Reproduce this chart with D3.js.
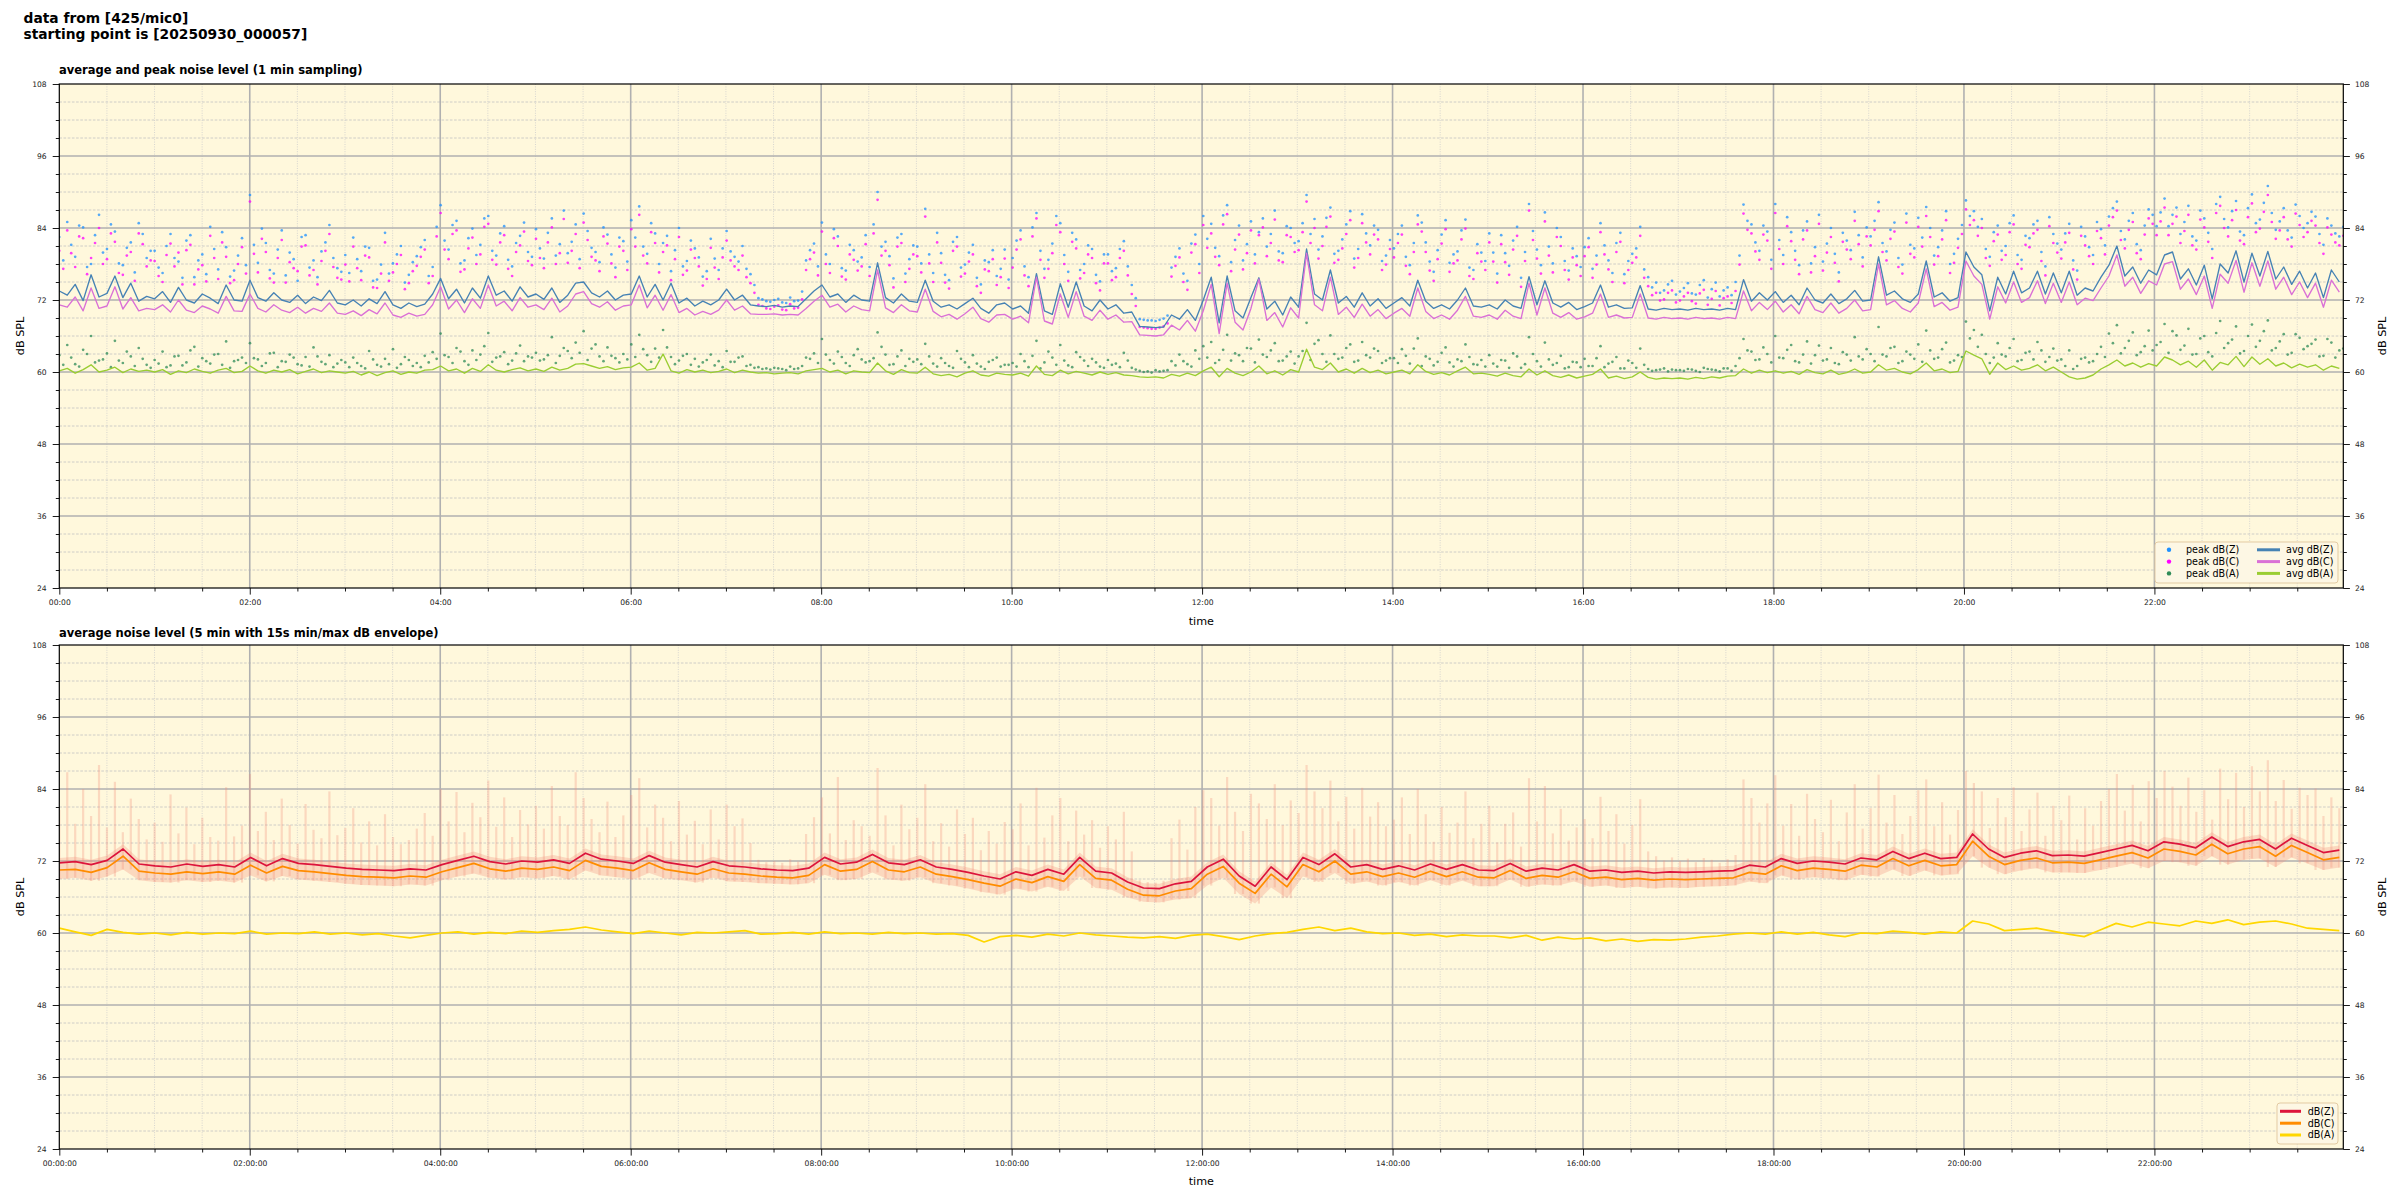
<!DOCTYPE html>
<html><head><meta charset="utf-8">
<script src="https://cdn.jsdelivr.net/npm/d3@7"></script>
<style>
body{margin:0;background:#fff;}
svg{display:block;font-family:"DejaVu Sans",sans-serif;}
</style></head><body>
<svg id="c" width="2400" height="1200"></svg>
<script>
// ---------- DATA ----------
const mainTitle = ["data from [425/mic0]", "starting point is [20250930_000057]"];
const topTitle = "average and peak noise level (1 min sampling)";
const botTitle = "average noise level (5 min with 15s min/max dB envelope)";
const yTicks = [24, 36, 48, 60, 72, 84, 96, 108];
const xTickMinutes = [0, 120, 240, 360, 480, 600, 720, 840, 960, 1080, 1200, 1320];
const topLegend = ["peak dB(Z)", "peak dB(C)", "peak dB(A)", "avg dB(Z)", "avg dB(C)", "avg dB(A)"];
const botLegend = ["dB(Z)", "dB(C)", "dB(A)"];

// top panel, 5-min samples over 24 h (one row per hour)
const avgZ = [
73.5,72.8,74.6,71.9,76.2,72.5,73.1,76.0,72.4,74.8,71.8,72.6,
72.2,73.4,71.6,74.1,72.0,71.5,73.0,72.3,71.4,74.5,72.0,71.8,
75.3,72.4,71.8,73.2,72.0,71.6,72.8,71.4,72.5,71.9,73.6,71.5,
71.2,72.0,71.0,72.2,71.4,73.4,71.2,70.6,71.5,70.9,71.3,73.0,
75.6,72.2,73.8,71.5,74.0,72.3,76.0,72.8,73.5,71.8,74.2,72.5,
73.0,72.1,74.0,71.6,72.8,74.8,75.0,73.2,72.5,73.5,72.0,72.8,
73.0,76.0,72.5,74.6,72.0,74.8,71.5,72.3,71.0,71.8,71.2,72.0,
73.8,72.0,72.8,71.2,71.0,70.9,71.1,70.8,71.0,70.9,72.2,73.5,
74.5,72.5,73.0,71.6,72.8,72.0,71.8,78.2,72.4,71.5,73.0,71.8,
71.6,75.3,71.8,70.8,71.2,70.5,71.4,72.3,70.6,69.8,71.2,71.5,
70.5,71.0,69.8,76.4,70.2,69.6,74.7,70.8,75.0,71.0,70.2,72.0,
70.5,71.2,69.8,70.0,67.6,67.5,67.4,67.5,69.5,68.8,70.4,68.6,
72.0,75.8,68.2,76.0,70.2,69.0,72.4,75.7,70.5,71.8,69.5,72.5,
70.8,80.5,73.0,72.0,77.0,71.5,72.6,70.8,73.2,71.0,72.2,70.6,
71.5,72.4,71.0,75.3,71.8,70.6,71.2,70.5,72.0,74.0,71.0,70.8,
71.2,70.5,72.0,71.0,70.6,75.9,71.2,75.2,71.5,70.8,71.6,70.4,
70.9,71.5,74.5,70.8,71.2,70.6,70.7,74.4,70.5,70.3,70.6,70.4,
70.5,70.3,70.6,70.4,70.5,70.3,70.6,70.4,75.4,71.8,73.2,72.0,
73.4,71.6,72.8,71.2,74.0,72.0,71.5,73.0,71.4,72.2,73.6,71.8,
72.0,79.2,72.8,73.5,72.2,71.6,73.0,78.5,72.5,73.2,71.8,72.4,
80.0,77.5,76.2,70.2,75.8,73.0,76.8,73.2,74.0,76.8,73.0,76.5,
73.2,76.8,72.8,74.0,73.5,75.8,77.8,81.0,76.0,77.5,74.8,77.0,
76.2,79.5,80.0,75.5,77.2,74.5,77.8,72.2,78.0,76.5,80.2,75.0,
79.8,76.0,80.1,75.5,77.5,74.6,76.8,74.0,76.5,72.4,77.0,75.0];

const avgC = [
71.2,70.8,72.5,70.2,74.0,70.6,71.0,74.2,70.5,72.4,70.2,70.6,
70.4,71.2,70.0,72.0,70.3,69.9,71.0,70.5,69.8,72.6,70.2,70.1,
73.0,70.6,70.0,71.2,70.3,69.9,70.8,69.8,70.6,70.1,71.5,69.8,
69.6,70.2,69.4,70.4,69.7,71.5,69.5,69.1,69.8,69.3,69.6,71.2,
74.2,70.5,72.0,69.9,72.2,70.6,74.5,71.0,71.8,70.2,72.4,70.8,
71.2,70.4,72.3,70.0,71.0,73.0,73.4,71.4,70.8,71.7,70.3,71.0,
71.2,74.5,70.7,72.8,70.3,72.9,69.9,70.6,69.5,70.1,69.6,70.3,
72.0,70.3,71.0,69.7,69.6,69.6,69.7,69.5,69.6,69.5,70.6,71.8,
72.8,70.8,71.3,70.0,71.0,70.4,70.2,77.0,70.7,69.9,71.2,70.2,
70.0,73.8,70.1,69.2,69.6,68.8,69.7,70.8,68.9,68.3,69.5,69.6,
68.8,69.3,68.2,75.8,68.5,68.0,73.0,69.1,73.4,69.3,68.6,70.3,
68.8,69.5,68.3,68.4,66.2,66.1,66.0,66.2,67.8,67.0,68.6,66.8,
70.2,74.6,66.4,74.8,68.3,67.0,70.6,75.5,68.6,69.9,67.5,70.7,
69.0,79.8,71.2,70.2,75.8,69.6,70.8,69.1,71.3,69.3,70.4,68.9,
69.8,70.6,69.3,74.0,70.1,68.9,69.5,68.8,70.3,72.6,69.3,69.1,
69.5,68.8,70.3,69.3,68.9,74.8,69.5,74.0,69.8,69.1,69.9,68.8,
69.2,69.8,73.0,69.1,69.5,69.0,69.1,73.0,69.0,68.8,69.1,68.9,
69.0,68.8,69.1,68.9,69.0,68.8,69.1,68.9,73.5,70.2,71.6,70.4,
71.8,70.0,71.2,69.7,72.6,70.4,69.9,71.5,69.8,70.6,72.0,70.2,
70.4,78.0,71.2,71.9,70.6,70.0,71.5,77.2,70.9,71.6,70.3,70.8,
78.5,76.0,74.6,68.8,74.2,71.5,75.0,71.6,72.4,75.2,71.4,74.8,
71.6,75.0,71.2,72.3,71.9,74.0,76.0,79.5,74.3,75.8,73.1,75.2,
74.5,78.0,78.4,73.8,75.5,72.9,76.0,70.6,76.3,74.8,78.6,73.3,
78.2,74.3,78.5,73.8,75.8,72.9,75.0,72.4,74.8,70.8,75.3,73.3];

const avgA = [
60.2,60.6,59.8,60.4,61.2,60.0,60.3,60.8,59.9,60.5,60.1,60.3,
60.0,60.4,59.6,60.2,59.9,60.5,60.1,59.8,60.3,60.6,59.9,60.1,
61.0,60.2,59.8,60.3,60.0,60.4,59.7,60.1,60.5,59.9,60.2,60.0,
59.8,60.1,59.5,60.0,59.4,59.9,60.2,59.6,60.0,59.8,60.3,60.4,
61.0,60.2,60.5,59.8,60.6,60.1,61.2,60.3,60.0,60.4,60.7,60.2,
60.5,60.1,60.8,60.3,60.6,61.3,61.4,61.0,60.6,60.9,60.4,60.7,
60.8,61.5,60.3,60.6,63.0,60.2,59.8,60.4,60.0,60.3,59.9,60.1,
60.5,59.9,60.3,60.0,59.8,59.9,59.7,59.8,59.9,59.7,60.2,60.4,
60.6,60.0,60.3,59.7,60.2,60.0,59.9,61.5,60.2,59.6,60.4,59.9,
59.8,60.8,59.7,59.4,59.6,59.2,59.8,60.2,59.5,59.3,59.8,59.6,
59.5,59.8,59.3,61.0,59.6,59.4,60.3,59.7,60.1,59.8,59.5,60.0,
59.6,59.9,59.5,59.4,59.2,59.1,59.2,59.0,59.6,59.3,59.8,59.4,
60.2,60.8,59.2,60.6,59.8,59.4,60.0,61.0,59.7,60.2,59.5,60.4,
60.0,63.8,60.8,60.4,61.5,60.0,60.5,59.8,60.6,59.9,60.3,59.7,
60.0,60.3,59.7,61.2,60.1,59.6,59.9,59.5,60.2,60.8,59.7,59.8,
59.6,59.3,59.8,59.4,59.2,60.5,59.5,60.2,59.4,59.1,59.5,59.0,
59.3,59.6,60.5,59.0,59.3,58.9,59.2,60.0,59.1,58.8,59.0,58.9,
59.0,58.8,59.1,58.9,59.2,59.0,59.3,59.4,60.5,59.8,60.3,59.9,
60.2,59.8,60.1,59.6,60.4,59.9,59.7,60.3,59.6,59.9,60.5,59.8,
60.0,61.2,60.3,60.6,60.0,59.7,60.4,61.5,60.2,60.5,59.9,60.1,
63.5,62.8,62.2,59.6,61.5,60.4,61.0,60.3,60.6,61.2,60.2,60.8,
60.0,59.2,58.8,59.0,59.5,60.5,61.2,62.0,61.0,61.5,60.8,61.4,
61.0,62.5,62.0,61.2,61.8,60.8,62.0,60.3,61.6,61.2,62.6,60.9,
62.5,61.3,62.2,61.0,61.5,60.7,61.3,60.8,61.2,60.3,61.0,60.6];

// peaks on the 5-min marks
const peakZ = [
82.5,85.0,79.2,84.1,78.0,86.2,80.5,83.4,77.8,81.6,84.8,79.0,
80.2,76.5,83.0,78.4,81.9,75.8,79.6,84.2,77.1,80.8,76.9,82.3,
89.5,78.2,81.5,76.4,83.6,79.9,75.2,82.8,78.6,80.1,84.5,77.3,
79.5,82.4,76.8,80.7,75.4,83.2,78.1,81.0,76.2,79.3,82.0,77.5,
87.8,80.4,85.2,78.6,83.9,81.2,86.0,79.4,84.3,77.6,82.7,80.0,
83.8,78.9,85.6,81.3,79.8,84.6,86.4,80.7,78.3,82.9,77.4,81.8,
85.3,87.6,79.7,83.1,81.5,76.8,84.0,78.5,80.6,75.9,82.2,77.0,
83.5,79.2,81.0,76.3,72.3,71.8,72.0,71.6,72.4,71.9,78.6,81.4,
84.9,78.0,82.6,76.9,80.3,79.1,77.5,90.0,81.7,75.6,83.0,78.8,
80.9,87.2,76.5,79.8,75.3,82.5,77.9,81.2,74.6,78.3,76.0,80.4,
79.0,83.6,75.8,86.5,77.2,81.4,84.8,76.7,82.1,78.0,80.5,75.1,
79.6,77.3,81.8,74.5,68.8,68.6,68.5,68.9,77.4,80.6,75.2,82.9,
86.0,84.7,79.3,87.8,82.0,78.6,85.1,83.3,80.9,86.9,79.8,84.0,
81.8,89.5,85.5,82.6,87.4,80.2,84.6,78.9,86.3,81.1,83.7,79.4,
80.6,84.4,77.8,86.1,81.6,76.7,82.9,78.2,80.1,85.4,77.0,79.9,
83.1,76.4,79.8,81.9,75.7,88.0,80.4,86.6,78.1,82.5,76.9,79.3,
80.8,77.2,84.8,78.6,81.5,76.3,79.7,84.2,75.8,74.9,73.6,75.2,
73.4,74.8,72.9,75.3,73.8,72.6,74.1,75.0,87.9,84.6,80.2,83.4,
88.0,79.5,83.3,77.8,85.1,80.8,78.4,84.0,76.6,81.9,86.7,79.1,
82.6,88.3,80.1,84.9,77.9,81.2,85.7,87.5,79.4,83.6,78.0,82.2,
88.6,86.8,85.5,79.2,84.4,81.0,86.1,78.7,82.3,85.2,77.6,83.0,
80.4,84.7,76.9,82.6,79.5,83.8,85.9,88.4,82.1,86.5,80.3,87.1,
84.3,88.9,86.2,83.0,87.7,81.9,85.6,80.5,89.2,84.1,88.5,82.8,
89.6,85.4,91.0,83.7,87.3,82.4,86.0,84.8,85.9,81.2,84.4,82.6];

const peakC = [
80.2,83.6,77.5,82.3,79.0,84.0,78.8,81.7,76.2,80.0,83.1,77.6,
78.5,75.0,81.4,79.9,80.3,74.6,77.8,82.7,75.5,79.2,75.3,80.8,
88.4,76.6,80.0,74.9,82.0,78.3,76.8,81.1,77.0,78.5,83.0,75.7,
77.9,80.9,75.3,79.1,74.0,81.6,76.6,79.5,74.8,77.7,80.4,76.0,
86.5,78.8,83.6,77.1,82.4,79.6,84.7,77.9,82.8,76.0,81.1,78.5,
82.2,77.3,84.1,79.8,78.2,83.0,84.9,79.2,76.8,81.4,75.8,80.2,
83.8,86.2,78.1,81.5,80.0,75.3,82.5,76.9,79.0,74.4,80.7,75.5,
81.9,77.6,79.4,74.8,71.2,70.6,70.9,70.4,71.3,70.7,77.0,79.9,
83.4,76.5,81.0,75.4,78.7,77.6,76.0,88.7,80.2,74.1,81.5,77.2,
79.3,85.9,75.0,78.2,73.9,80.9,76.4,79.6,73.2,76.8,74.5,78.9,
77.4,82.1,74.3,85.6,75.7,79.8,83.3,75.2,80.6,76.5,79.0,73.6,
78.1,75.8,80.2,73.0,67.5,67.3,67.2,67.6,75.9,79.1,73.7,81.3,
84.5,83.1,77.8,86.3,80.4,77.1,83.6,82.8,79.3,85.4,78.3,82.5,
80.3,88.4,84.0,81.0,85.9,78.7,83.0,77.4,84.8,79.6,82.1,77.9,
79.1,82.9,76.3,84.6,80.0,75.2,81.4,76.7,78.6,83.9,75.5,78.4,
81.6,74.9,78.3,80.4,74.2,86.9,78.9,85.1,76.6,81.0,75.4,77.8,
79.3,75.7,83.3,77.1,80.0,74.8,78.2,82.7,74.3,73.2,72.1,73.6,
71.9,73.2,71.4,73.7,72.2,71.1,72.6,73.5,86.4,83.1,78.7,81.9,
86.5,78.0,81.8,76.3,83.6,79.3,76.9,82.5,75.1,80.4,85.2,77.6,
81.1,86.8,78.6,83.4,76.4,79.7,84.2,86.0,77.9,82.1,76.5,80.7,
87.1,85.3,84.0,77.7,82.9,79.5,84.6,77.2,80.8,83.7,76.1,81.5,
78.9,83.2,75.4,81.1,78.0,82.3,84.4,86.9,80.6,85.0,78.8,85.6,
82.8,87.4,84.7,81.5,86.2,80.4,84.1,79.0,87.7,82.6,87.0,81.3,
88.1,83.9,89.5,82.2,85.8,80.9,84.5,83.3,84.4,79.7,82.9,81.1];

const peakA = [
62.8,64.5,61.3,63.7,66.0,61.9,63.1,65.2,61.5,62.6,64.0,61.2,
62.0,63.4,61.1,62.7,61.6,64.2,62.3,61.4,63.0,65.1,61.8,62.4,
64.8,62.1,61.5,63.2,61.8,62.9,61.3,62.5,64.1,61.7,62.8,61.4,
61.6,62.4,61.0,63.5,61.2,62.2,63.8,61.3,62.0,61.5,62.7,63.3,
66.4,62.5,64.0,61.8,63.6,62.9,66.5,62.4,63.3,61.9,64.4,62.6,
63.2,62.1,65.8,62.7,63.5,64.9,66.8,63.9,62.6,64.1,62.3,63.0,
64.6,66.2,62.8,63.9,67.0,62.5,61.9,63.0,62.2,61.6,62.9,61.8,
63.5,61.7,62.6,61.2,60.8,60.6,60.7,60.5,60.9,60.6,62.4,63.1,
65.5,62.0,63.4,61.5,62.8,62.1,61.8,66.6,62.9,61.3,63.6,62.2,
62.1,64.7,61.4,62.3,61.0,63.5,61.6,62.8,60.9,61.7,62.4,61.2,
61.5,63.0,60.8,65.2,61.6,62.4,64.5,61.1,63.3,61.9,62.2,60.9,
62.0,61.4,63.2,60.7,60.2,60.1,60.3,60.2,61.8,62.9,61.3,63.6,
64.3,65.0,62.0,66.2,63.1,61.8,63.9,65.4,62.5,64.8,61.9,63.4,
62.6,68.2,64.7,63.0,66.1,62.2,64.0,61.7,65.0,62.4,63.5,61.9,
62.3,63.8,61.4,65.6,62.6,61.1,63.2,61.6,62.1,64.6,61.3,62.0,
62.8,60.9,61.9,63.1,60.7,65.8,61.8,64.9,61.2,62.7,60.8,61.6,
62.2,61.0,64.3,61.4,62.5,60.6,61.5,63.9,60.5,60.3,60.6,60.4,
60.3,60.5,60.2,60.7,60.4,60.1,60.6,61.0,65.5,63.4,62.1,63.0,
66.0,62.3,64.5,61.6,65.1,62.8,61.9,64.0,61.3,62.9,65.8,62.1,
63.0,67.5,62.6,64.2,61.8,62.9,64.6,66.9,62.2,63.8,61.6,62.8,
68.4,67.0,66.2,61.5,64.8,62.6,65.5,62.0,63.4,65.0,61.7,63.9,
62.1,63.6,61.0,62.4,61.8,64.2,66.4,67.8,64.0,66.6,63.3,66.9,
64.5,68.0,66.8,63.7,67.2,63.0,66.0,62.6,68.5,64.8,67.6,63.5,
67.9,65.2,68.6,64.0,66.3,63.2,65.7,64.3,65.4,62.7,64.9,63.6];

// peaks half-way between the 5-min marks
const peakZ2 = [
78.6,81.2,84.4,77.5,82.8,79.9,84.6,78.1,80.7,76.6,83.0,80.2,
77.4,81.0,79.0,75.7,82.8,78.6,76.3,80.5,83.3,75.9,79.4,77.8,
81.2,83.9,77.0,80.4,76.1,78.8,82.5,77.4,75.8,81.6,79.0,76.7,
76.5,78.8,80.9,75.2,77.9,76.4,79.6,74.9,78.3,80.8,76.0,84.2,
81.9,84.5,78.1,82.3,79.5,85.6,80.2,83.1,78.7,81.5,84.9,79.2,
80.6,83.2,79.4,86.9,81.7,78.8,83.5,80.0,84.1,79.6,82.4,78.4,
82.4,80.9,84.8,78.0,82.7,80.3,77.6,81.9,79.1,76.8,78.9,80.6,
80.1,78.4,77.2,74.5,72.1,71.7,72.2,71.5,71.8,73.4,80.3,77.6,
79.6,83.8,77.3,81.2,78.4,82.8,84.6,80.9,79.3,82.4,76.4,81.1,
78.1,79.6,83.2,76.2,81.7,77.4,79.9,75.7,78.6,80.3,77.2,75.4,
81.9,77.6,84.1,80.2,78.7,86.0,79.5,83.2,77.0,81.1,76.2,79.6,
76.8,80.5,77.6,72.3,68.7,68.6,68.7,69.4,79.2,76.4,81.4,78.0,
82.2,80.7,86.1,78.3,84.4,81.3,79.6,85.6,83.0,80.1,84.3,81.5,
84.8,83.0,80.4,85.7,79.7,82.1,86.8,80.5,83.1,84.4,78.5,82.0,
83.0,79.2,81.5,84.9,78.4,80.3,85.3,79.6,83.6,77.4,81.3,78.5,
79.9,82.8,77.7,84.2,80.0,83.5,77.8,80.9,84.0,78.5,80.6,77.5,
82.3,79.4,81.1,76.5,83.2,78.5,80.6,77.1,74.1,73.2,74.6,72.9,
74.0,73.1,74.5,72.4,74.9,73.6,72.8,79.4,85.2,81.6,84.4,78.7,
82.0,85.8,80.2,83.6,78.1,86.2,81.4,79.7,83.2,80.3,82.8,84.1,
85.2,81.5,83.7,79.0,86.4,80.6,82.4,84.0,80.8,86.8,79.7,84.5,
86.0,84.2,80.5,83.3,80.2,84.8,79.5,82.7,84.6,80.0,85.8,81.4,
83.1,78.6,84.2,80.8,85.0,81.1,87.3,83.5,85.2,81.3,84.4,86.2,
86.6,84.3,87.4,85.0,82.6,86.9,83.2,88.0,85.5,86.8,83.4,87.3,
84.8,88.2,86.5,85.1,83.6,87.9,84.0,86.7,83.0,85.6,83.1,84.2];

const peakC2 = [
77.2,79.8,82.6,76.3,81.5,78.0,83.1,76.5,79.4,75.2,81.3,78.6,
76.0,79.5,77.6,74.6,81.2,77.1,75.1,79.0,81.6,74.8,78.0,76.4,
79.7,82.2,75.6,79.0,74.9,77.3,80.9,76.1,74.6,80.2,77.5,75.4,
75.1,77.3,79.4,74.1,76.4,75.2,78.0,73.8,76.8,79.2,74.8,82.6,
80.4,83.0,76.7,80.6,78.0,84.2,78.7,81.6,77.2,80.0,83.4,77.8,
79.0,81.6,78.0,85.5,80.2,77.3,82.0,78.6,82.6,78.1,80.9,77.0,
80.9,79.4,83.3,76.6,81.1,78.8,76.2,80.4,77.6,75.5,77.4,79.1,
78.6,77.0,75.8,73.2,71.0,70.5,71.1,70.3,70.6,72.1,78.8,76.1,
78.0,82.3,75.9,79.6,76.9,81.3,83.1,79.4,77.8,80.9,75.0,79.6,
76.6,78.1,81.6,74.9,80.2,75.9,78.4,74.3,77.1,78.8,75.8,74.0,
80.4,76.1,82.6,78.7,77.2,84.5,78.0,81.7,75.6,79.6,74.8,78.1,
75.3,79.0,76.1,71.0,67.4,67.2,67.4,68.1,77.7,75.0,79.9,76.5,
80.7,79.2,84.6,76.8,82.9,79.8,78.1,84.1,81.5,78.6,82.8,80.0,
83.3,81.5,78.9,84.2,78.2,80.6,85.3,79.0,81.6,82.9,77.0,80.5,
81.5,77.7,80.0,83.4,76.9,78.8,83.8,78.1,82.1,76.0,79.8,77.0,
78.4,81.3,76.2,82.7,78.5,82.0,76.4,79.4,82.5,77.0,79.1,76.0,
80.8,77.9,79.6,75.0,81.7,77.0,79.1,75.7,72.8,71.9,73.2,71.6,
72.6,71.8,73.1,71.2,73.5,72.3,71.5,77.9,83.7,80.1,82.9,77.2,
80.5,84.3,78.7,82.1,76.6,84.7,79.9,78.2,81.7,78.8,81.3,82.6,
83.7,80.0,82.2,77.5,84.9,79.1,80.9,82.5,79.3,85.3,78.2,83.0,
84.5,82.7,79.0,81.8,78.7,83.3,78.0,81.2,83.1,78.5,84.3,79.9,
81.6,77.1,82.7,79.3,83.5,79.6,85.8,82.0,83.7,79.8,82.9,84.7,
85.1,82.8,85.9,83.5,81.1,85.4,81.7,86.5,84.0,85.3,81.9,85.8,
83.3,86.7,85.0,83.6,82.1,86.4,82.5,85.2,81.5,84.1,81.6,82.7];

const peakA2 = [
61.2,62.4,60.9,63.0,61.6,62.1,60.8,61.9,63.4,61.0,62.2,60.7,
61.4,60.8,62.6,61.1,63.6,60.9,61.8,62.9,61.2,60.7,62.0,61.5,
62.3,61.0,63.1,60.8,61.7,62.4,61.1,60.9,62.6,61.3,60.8,62.0,
60.8,61.5,60.6,62.1,60.9,61.3,60.7,62.5,61.0,60.8,61.6,62.2,
62.8,61.5,63.4,61.2,62.0,64.3,61.7,62.6,61.3,63.1,61.8,62.4,
61.9,62.8,61.5,64.0,62.3,63.2,62.0,64.6,61.8,62.7,61.6,62.1,
62.5,63.8,61.7,62.4,64.1,61.3,62.7,61.2,60.9,62.0,61.1,60.8,
61.7,62.4,61.0,60.7,60.5,60.4,60.6,60.3,60.5,61.0,62.2,61.5,
62.9,61.4,62.5,61.0,63.8,61.6,62.3,64.2,61.2,62.6,61.0,61.7,
61.3,62.6,60.9,61.5,60.7,62.2,60.8,61.4,60.5,62.0,60.9,61.2,
60.9,61.8,62.7,60.6,63.4,61.2,61.9,60.8,62.5,61.0,61.6,60.7,
61.2,60.8,61.9,60.4,60.0,59.9,60.1,60.3,61.1,61.8,60.9,62.2,
62.4,61.5,63.7,61.9,62.8,64.0,61.6,62.9,63.6,61.8,62.6,61.4,
63.5,62.0,65.3,61.7,63.0,62.4,64.6,61.9,62.8,63.9,61.5,62.3,
61.5,62.7,63.9,61.0,62.2,61.7,64.1,60.9,61.8,62.5,61.2,60.9,
61.4,62.0,60.7,62.6,61.3,63.0,60.9,62.1,61.5,60.6,61.7,60.8,
61.0,62.3,60.8,61.7,60.6,61.9,60.7,61.2,60.2,60.4,60.1,60.3,
60.2,60.4,60.0,60.5,60.3,60.6,60.2,62.3,63.6,62.0,64.1,61.6,
62.4,63.7,61.8,62.9,61.4,64.4,62.1,61.5,63.3,61.9,62.6,63.8,
61.8,62.9,64.0,61.5,63.4,62.2,61.7,63.6,62.4,64.9,61.9,62.5,
65.6,64.2,63.0,62.4,62.9,64.0,61.8,63.2,62.1,63.6,62.5,61.9,
61.0,60.5,62.2,61.6,63.0,62.5,64.8,63.1,65.2,62.8,64.3,63.6,
65.0,63.2,66.1,64.4,62.9,65.6,63.3,66.5,64.0,65.4,63.1,66.0,
64.2,66.8,63.6,65.1,62.9,66.3,63.8,64.7,62.6,65.5,62.4,63.9];

// bottom panel, 10-min samples (two hours per line)
const dbZ = [
71.7,71.9,71.4,72.1,74.0,71.5, 71.2,71.0,71.5,71.1,71.4,71.0,
72.6,71.2,72.4,71.6,71.4,71.1, 70.8,70.6,70.5,70.4,70.7,70.5,
71.4,72.1,72.8,71.9,71.5,72.0, 71.8,72.2,71.6,73.3,72.3,72.0,
71.6,72.9,71.8,71.4,71.0,71.9, 71.2,71.0,70.7,70.5,70.4,70.8,
72.6,71.5,71.8,73.1,71.7,71.4, 72.2,71.0,70.6,70.1,69.5,69.0,
70.2,69.6,70.6,69.8,72.6,70.3, 70.0,68.5,67.5,67.4,68.2,68.6,
71.0,72.3,69.5,67.8,71.0,68.9, 72.6,71.4,73.2,71.0,71.4,70.6,
71.2,70.5,71.5,70.6,71.4,70.5, 70.4,71.6,70.3,70.8,70.5,71.4,
70.3,70.5,70.1,70.3,70.0,70.2, 70.1,70.2,70.3,70.4,71.3,71.0,
72.4,71.6,72.0,71.8,71.5,72.5, 72.2,73.6,72.4,73.3,72.4,72.6,
76.5,74.0,72.6,73.3,73.7,72.9, 73.0,72.8,73.4,74.0,74.6,73.7,
75.2,74.8,74.2,76.0,74.4,75.2, 75.6,74.0,75.8,74.6,73.4,73.8];

const dbC = [
70.5,70.6,70.1,70.9,72.8,70.3, 70.0,69.8,70.2,69.9,70.2,69.8,
71.3,70.0,71.1,70.4,70.2,69.9, 69.6,69.4,69.3,69.2,69.5,69.3,
70.2,70.9,71.6,70.7,70.3,70.8, 70.6,71.0,70.4,72.1,71.1,70.8,
70.4,71.7,70.6,70.2,69.8,70.7, 70.0,69.8,69.5,69.3,69.2,69.6,
71.4,70.3,70.6,71.9,70.5,70.2, 71.0,69.8,69.4,68.9,68.3,67.8,
69.0,68.4,69.4,68.6,71.4,69.1, 68.8,67.3,66.3,66.2,67.0,67.4,
69.8,71.1,68.3,66.6,69.8,67.7, 71.4,70.2,72.0,69.8,70.2,69.4,
70.0,69.3,70.3,69.4,70.2,69.3, 69.2,70.4,69.1,69.6,69.3,70.2,
69.1,69.3,68.9,69.1,68.8,69.0, 68.9,69.0,69.1,69.2,70.1,69.8,
71.2,70.4,70.8,70.6,70.3,71.3, 71.0,72.4,71.2,72.1,71.2,71.4,
75.3,72.8,71.4,72.1,72.5,71.7, 71.8,71.6,72.2,72.8,73.4,72.5,
74.0,73.6,73.0,74.8,73.2,74.0, 74.4,72.8,74.6,73.4,72.2,72.6];

const dbA = [
60.8,60.2,59.6,60.6,60.1,59.8, 60.0,59.7,60.1,59.8,60.0,59.9,
60.3,59.8,60.0,59.9,60.2,59.8, 60.0,59.7,59.9,59.5,59.2,59.6,
60.0,60.2,59.8,60.1,59.9,60.3, 60.1,60.4,60.6,61.0,60.5,60.2,
59.9,60.3,60.0,59.7,60.1,60.0, 60.2,60.4,59.8,59.9,60.1,59.8,
60.2,59.9,60.0,59.8,60.1,59.9, 60.0,59.8,59.9,59.6,58.5,59.4,
59.6,59.3,59.8,59.5,60.0,59.7, 59.5,59.3,59.2,59.4,59.1,59.6,
59.8,59.4,58.9,59.5,59.9,60.1, 60.6,61.0,60.4,60.8,60.2,59.9,
60.0,59.6,59.8,59.4,59.7,59.5, 59.5,59.2,59.6,58.8,59.3,59.0,
59.2,58.7,59.0,58.6,58.9,58.8, 59.0,59.3,59.5,59.8,60.0,59.8,
60.2,59.8,60.1,59.7,59.4,60.0, 59.9,60.3,60.1,59.8,60.2,60.0,
62.0,61.5,60.4,60.6,60.8,60.3, 59.8,59.4,60.5,61.6,61.0,61.8,
61.5,61.2,62.0,61.6,62.2,61.4, 61.8,62.0,61.5,60.8,60.6,60.4];

// 15 s max envelope (5-min maxima) and min envelope (10-min)
const envMax = [
80.5,86.8,78.2,84.0,79.5,88.0,77.6,85.2,76.8,82.4,79.0,75.6,
78.4,75.2,83.1,76.6,80.9,74.8,79.2,76.0,75.4,84.3,76.1,77.9,
86.5,77.0,80.2,75.5,82.4,78.0,74.9,81.5,77.2,75.8,83.6,76.3,
77.5,80.8,75.1,78.6,74.6,79.8,76.0,74.8,75.5,77.4,80.0,76.2,
84.0,78.6,83.5,76.8,81.7,79.3,85.4,77.7,82.6,76.0,80.5,78.1,
81.2,77.4,84.5,79.5,78.0,86.8,82.5,79.0,76.8,81.9,76.0,79.6,
83.0,85.8,77.6,81.4,79.2,75.3,82.0,76.4,78.7,74.8,80.6,75.6,
81.4,77.8,79.1,75.0,72.2,71.8,72.0,71.7,72.3,71.9,76.5,79.3,
82.6,76.6,86.0,75.5,78.8,77.8,76.2,87.5,79.6,74.6,81.4,77.3,
79.2,84.8,75.3,78.3,74.4,80.6,76.5,79.2,73.8,77.0,74.9,78.5,
77.3,81.6,74.6,84.2,75.9,79.6,82.5,75.3,80.4,76.4,78.8,74.2,
77.8,75.6,80.2,73.6,68.8,68.5,68.4,68.7,75.8,78.9,73.9,81.0,
83.8,82.5,77.9,86.0,80.2,77.0,83.2,81.6,79.0,84.8,78.0,82.1,
80.0,88.0,83.6,80.8,85.4,78.6,82.7,77.4,84.2,79.4,81.8,77.8,
78.9,82.6,76.5,84.0,79.8,75.2,81.0,76.7,78.4,83.6,75.8,78.2,
81.2,75.1,78.2,80.1,74.4,85.8,78.6,84.5,76.6,80.7,75.4,77.6,
79.0,75.8,82.7,77.0,79.8,74.9,78.0,82.3,73.6,72.8,72.1,72.6,
72.0,72.4,71.8,72.5,72.2,71.7,72.3,73.0,85.6,82.5,78.4,81.6,
86.3,77.9,81.5,76.2,83.2,79.0,76.8,82.2,75.3,80.1,84.8,77.4,
80.8,86.4,78.4,83.0,76.5,79.5,83.8,85.6,77.8,81.8,76.4,80.5,
87.0,85.0,83.6,77.5,82.5,79.3,84.3,77.0,80.6,83.4,76.2,81.2,
78.8,82.9,75.6,80.8,77.9,82.0,84.0,86.5,80.4,84.7,78.6,85.3,
82.5,87.0,84.4,81.2,85.9,80.2,83.8,78.9,87.4,82.3,86.7,81.0,
87.8,83.6,88.8,82.0,85.5,80.7,84.2,83.0,84.1,79.5,82.6,80.8];

const envMin = [
69.0,69.2,68.7,69.4,70.6,68.8, 68.5,68.4,68.8,68.5,68.7,68.4,
69.6,68.6,69.5,68.9,68.7,68.5, 68.2,68.0,67.9,67.8,68.1,67.9,
68.8,69.4,69.9,69.2,68.9,69.3, 69.1,69.5,68.9,70.4,69.6,69.3,
68.9,70.0,69.1,68.8,68.4,69.2, 68.6,68.5,68.3,68.2,68.1,68.3,
69.7,68.8,69.0,70.1,68.9,68.7, 69.3,68.3,67.9,67.4,66.8,66.4,
67.4,66.9,67.7,67.0,69.4,67.5, 67.2,65.9,65.2,65.1,65.6,65.8,
67.9,69.2,66.5,64.9,67.6,65.8, 69.4,68.5,70.0,68.2,68.6,67.9,
68.5,67.9,68.8,67.9,68.7,67.8, 67.8,68.9,67.7,68.1,67.9,68.6,
67.7,67.9,67.5,67.7,67.4,67.6, 67.5,67.7,67.8,67.9,68.6,68.3,
69.6,68.9,69.3,69.1,68.8,69.7, 69.4,70.6,69.5,70.4,69.6,69.8,
72.8,70.9,69.8,70.4,70.8,70.1, 70.1,70.0,70.5,71.0,71.6,70.8,
72.0,71.8,71.2,72.8,71.4,72.2, 72.4,71.0,72.6,71.6,70.5,70.9];

// ---------- DRAWING ----------
const svg = d3.select("#c");
const X0 = 59.3, X1 = 2343.3;
const DAY = 1439;
const x = d3.scaleLinear().domain([0, DAY]).range([X0, X1]);
const yMajor = yTicks;
const yMinor = d3.range(24, 109, 3).filter(v => (v - 24) % 12 !== 0);
const xMinor = d3.range(0, 1440, 30).filter(m => m % 120 !== 0);
const FONT = "DejaVu Sans";

function series(arr, off = 0) {
  const idx = d3.scaleLinear().domain([0, arr.length - 1]).range([off, DAY - 2.5 + off]);
  return arr.map((v, i) => ({t: idx(i), v}));
}
const p2 = d3.format("02");
const fmtTop = m => p2(Math.floor(m / 60)) + ":" + p2(m % 60);
const fmtBot = m => fmtTop(m) + ":00";

svg.append("text").attr("x", 23.5).attr("y", 23.3).attr("font-family", FONT).attr("font-weight", "bold")
  .attr("font-size", 13.8).text(mainTitle[0]);
svg.append("text").attr("x", 23.5).attr("y", 39).attr("font-family", FONT).attr("font-weight", "bold")
  .attr("font-size", 13.8).text(mainTitle[1]);

function panel(top, bottom, id) {
  const y = d3.scaleLinear().domain([24, 108]).range([bottom, top]);
  const g = svg.append("g");
  g.append("rect").attr("x", X0).attr("y", top).attr("width", X1 - X0).attr("height", bottom - top)
    .attr("fill", "#fff8dc");
  g.selectAll(null).data(yMinor).join("line")
    .attr("x1", X0).attr("x2", X1).attr("y1", d => y(d)).attr("y2", d => y(d))
    .attr("stroke", "#c2c2c2").attr("stroke-width", 0.8).attr("stroke-dasharray", "2.6,1.6");
  g.selectAll(null).data(xMinor).join("line")
    .attr("x1", d => x(d)).attr("x2", d => x(d)).attr("y1", top).attr("y2", bottom)
    .attr("stroke", "#cdcdcd").attr("stroke-width", 0.8).attr("stroke-dasharray", "1,1.4");
  g.selectAll(null).data(yMajor.slice(1, -1)).join("line")
    .attr("x1", X0).attr("x2", X1).attr("y1", d => y(d)).attr("y2", d => y(d))
    .attr("stroke", "#b0b0b0").attr("stroke-width", 1.6);
  g.selectAll(null).data(xTickMinutes.slice(1)).join("line")
    .attr("x1", d => x(d)).attr("x2", d => x(d)).attr("y1", top).attr("y2", bottom)
    .attr("stroke", "#b0b0b0").attr("stroke-width", 1.6);
  svg.append("clipPath").attr("id", id).append("rect")
    .attr("x", X0).attr("y", top).attr("width", X1 - X0).attr("height", bottom - top);
  const data = svg.append("g").attr("clip-path", `url(#${id})`);
  return {y, data};
}

function axes(top, bottom, y, fmt, labelYCenter, timeBaseline) {
  const ax = svg.append("g");
  ax.append("rect").attr("x", X0).attr("y", top).attr("width", X1 - X0).attr("height", bottom - top)
    .attr("fill", "none").attr("stroke", "#000").attr("stroke-width", 1.2);
  ax.append("g").attr("transform", `translate(${X0},0)`)
    .call(d3.axisLeft(y).tickValues(yMajor).tickSize(6.6).tickPadding(6));
  ax.append("g").attr("transform", `translate(${X0},0)`)
    .call(d3.axisLeft(y).tickValues(yMinor).tickSize(3.5).tickFormat(""));
  ax.append("g").attr("transform", `translate(${X1},0)`)
    .call(d3.axisRight(y).tickValues(yMajor).tickSize(6.6).tickPadding(5));
  ax.append("g").attr("transform", `translate(${X1},0)`)
    .call(d3.axisRight(y).tickValues(yMinor).tickSize(3.5).tickFormat(""));
  ax.append("g").attr("transform", `translate(0,${bottom})`)
    .call(d3.axisBottom(x).tickValues(xTickMinutes).tickSize(6.6).tickPadding(5).tickFormat(fmt));
  ax.append("g").attr("transform", `translate(0,${bottom})`)
    .call(d3.axisBottom(x).tickValues(xMinor).tickSize(3.5).tickFormat(""));
  ax.selectAll(".domain").remove();
  ax.selectAll(".tick text").attr("font-size", 7.6).attr("font-family", FONT).attr("fill", "#222");
  ax.selectAll(".tick line").attr("stroke", "#000").attr("stroke-width", 0.9);
  ax.append("text").attr("transform", `translate(24,${labelYCenter}) rotate(-90)`)
    .attr("text-anchor", "middle").attr("font-family", FONT).attr("font-size", 11.2).text("dB SPL");
  ax.append("text").attr("transform", `translate(2386,${labelYCenter}) rotate(-90)`)
    .attr("text-anchor", "middle").attr("font-family", FONT).attr("font-size", 11.2).text("dB SPL");
  ax.append("text").attr("x", (X0 + X1) / 2).attr("y", timeBaseline).attr("text-anchor", "middle")
    .attr("font-family", FONT).attr("font-size", 11.2).text("time");
}

// ---- top panel ----
const T = {top: 84, bottom: 588};
const P1 = panel(T.top, T.bottom, "clipTop");
const y1 = P1.y;
svg.append("text").attr("x", 59).attr("y", 74).attr("font-family", FONT).attr("font-weight", "bold")
  .attr("font-size", 11.5).text(topTitle);

const peakSets = [
  {d: [peakZ, peakZ2], c: "#1e90ff"},
  {d: [peakC, peakC2], c: "#ff00ff"},
  {d: [peakA, peakA2], c: "#2e8b57"}];
peakSets.forEach(s => {
  const pts = series(s.d[0], 0).concat(series(s.d[1], 2.5));
  P1.data.append("g").selectAll("circle").data(pts).join("circle")
    .attr("cx", d => x(d.t)).attr("cy", d => y1(d.v)).attr("r", 1.35)
    .attr("fill", s.c).attr("opacity", 0.75);
});
const line1 = d3.line().x(d => x(d.t)).y(d => y1(d.v));
[{d: avgZ, c: "#4682b4"}, {d: avgC, c: "#da70d6"}, {d: avgA, c: "#9acd32"}].forEach(s => {
  P1.data.append("path").datum(series(s.d)).attr("d", line1).attr("fill", "none")
    .attr("stroke", s.c).attr("stroke-width", 1.35).attr("stroke-linejoin", "round");
});
axes(T.top, T.bottom, y1, fmtTop, (T.top + T.bottom) / 2, 624.5);

const lg1 = svg.append("g");
lg1.append("rect").attr("x", 2155).attr("y", 542).attr("width", 183).attr("height", 41).attr("rx", 3)
  .attr("fill", "#fdf7e4").attr("stroke", "#e3cba3").attr("stroke-width", 1);
const rowsY = [549.8, 561.6, 573.4];
peakSets.forEach((s, i) => {
  lg1.append("circle").attr("cx", 2169).attr("cy", rowsY[i]).attr("r", 2.2).attr("fill", s.c);
  lg1.append("text").attr("x", 2186).attr("y", rowsY[i] + 3.4).attr("font-family", FONT)
    .attr("font-size", 9.6).text(topLegend[i]);
});
["#4682b4", "#da70d6", "#9acd32"].forEach((c, i) => {
  lg1.append("line").attr("x1", 2257).attr("x2", 2280).attr("y1", rowsY[i]).attr("y2", rowsY[i])
    .attr("stroke", c).attr("stroke-width", 3);
  lg1.append("text").attr("x", 2286).attr("y", rowsY[i] + 3.4).attr("font-family", FONT)
    .attr("font-size", 9.6).text(topLegend[i + 3]);
});

// ---- bottom panel ----
const B = {top: 645, bottom: 1149};
const P2 = panel(B.top, B.bottom, "clipBot");
const y2 = P2.y;
svg.append("text").attr("x", 59).attr("y", 636.7).attr("font-family", FONT).attr("font-weight", "bold")
  .attr("font-size", 11.5).text(botTitle);

const ENV = "#f2907c";
const minS = series(envMin), zS = series(dbZ);
const band = d3.area().x(d => x(d.t)).y0(d => y2(d.v)).y1((d, i) => y2(zS[i].v + 0.8));
P2.data.append("path").datum(minS).attr("d", band).attr("fill", ENV).attr("fill-opacity", 0.3);
const maxS = series(envMax);
P2.data.append("g").selectAll("rect").data(maxS).join("rect")
  .attr("x", d => x(d.t) - 1.1).attr("width", 2.2)
  .attr("y", d => y2(d.v))
  .attr("height", (d, i) => Math.max(0, y2(envMin[Math.min(envMin.length - 1, Math.floor(i / 2))]) - y2(d.v)))
  .attr("fill", ENV).attr("fill-opacity", 0.3);
const line2 = d3.line().x(d => x(d.t)).y(d => y2(d.v));
const botCols = ["#dc143c", "#ff8c00", "#ffd700"];
[dbZ, dbC, dbA].forEach((arr, i) => {
  P2.data.append("path").datum(series(arr)).attr("d", line2).attr("fill", "none")
    .attr("stroke", botCols[i]).attr("stroke-width", 1.7).attr("stroke-linejoin", "round");
});
axes(B.top, B.bottom, y2, fmtBot, (B.top + B.bottom) / 2, 1185);

const lg2 = svg.append("g");
lg2.append("rect").attr("x", 2277).attr("y", 1103).attr("width", 61).attr("height", 41).attr("rx", 3)
  .attr("fill", "#fdf7e4").attr("stroke", "#e3cba3").attr("stroke-width", 1);
const rows2 = [1111.3, 1123.2, 1135];
botCols.forEach((c, i) => {
  lg2.append("line").attr("x1", 2280).attr("x2", 2301).attr("y1", rows2[i]).attr("y2", rows2[i])
    .attr("stroke", c).attr("stroke-width", 3);
  lg2.append("text").attr("x", 2307.7).attr("y", rows2[i] + 3.4).attr("font-family", FONT)
    .attr("font-size", 9.6).text(botLegend[i]);
});
</script>
</body></html>
